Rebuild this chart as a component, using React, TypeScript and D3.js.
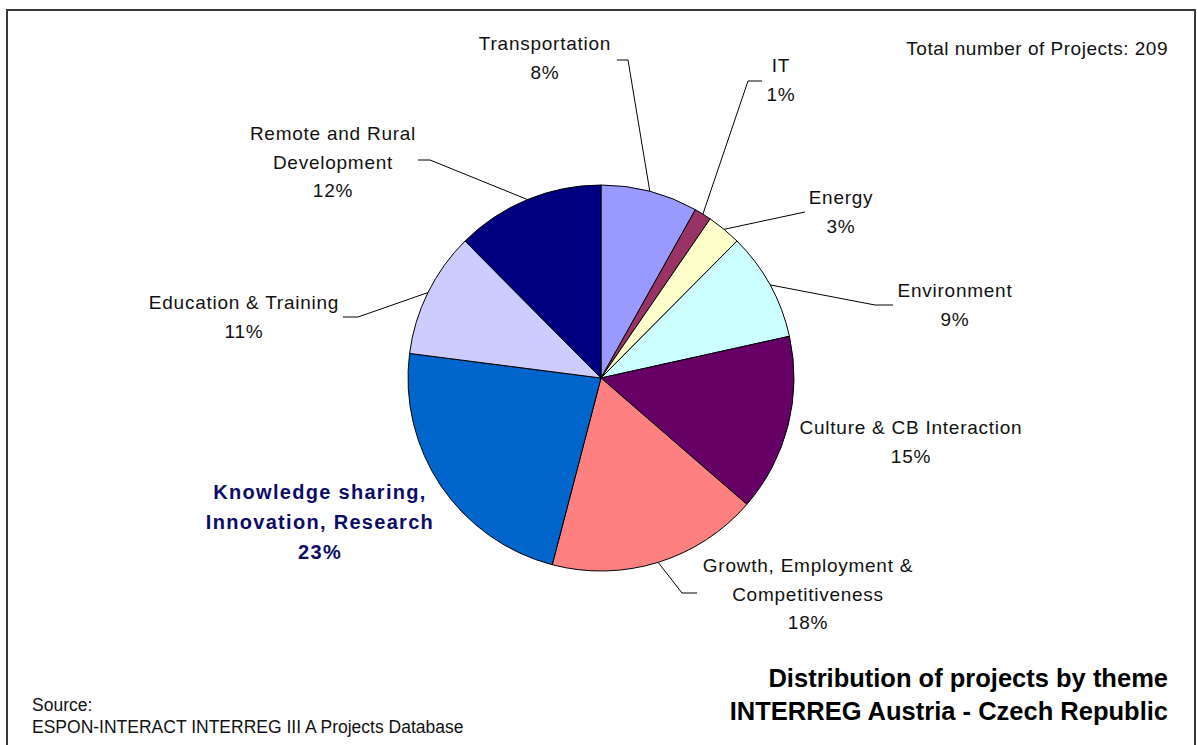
import React from "react";
import * as d3 from "d3";

const categories = [
  "Transportation",
  "IT",
  "Energy",
  "Environment",
  "Culture & CB Interaction",
  "Growth, Employment & Competitiveness",
  "Knowledge sharing, Innovation, Research",
  "Education & Training",
  "Remote and Rural Development",
];
const projectCounts = [17, 3, 6, 19, 31, 37, 48, 22, 26];
const sliceColors = [
  "#9999FF",
  "#993366",
  "#FFFFCC",
  "#CCFFFF",
  "#660066",
  "#FF8080",
  "#0066CC",
  "#CCCCFF",
  "#000080",
];
const labelLines = [
  ["Transportation"],
  ["IT"],
  ["Energy"],
  ["Environment"],
  ["Culture & CB Interaction"],
  ["Growth, Employment &", "Competitiveness"],
  ["Knowledge sharing,", "Innovation, Research"],
  ["Education & Training"],
  ["Remote and Rural", "Development"],
];
const titleLines = ["Distribution of projects by theme", "INTERREG Austria - Czech Republic"];
const sourceLines = ["Source:", "ESPON-INTERACT INTERREG III A Projects Database"];

// layout (label placement and leader elbows)
const labelLayout = [
  { x: 545, y: 43, elbow: [628, 60], end: [617, 60] },
  { x: 781, y: 65, elbow: [748, 81], end: [762, 81] },
  { x: 841, y: 197, elbow: [805, 212], end: [805, 212] },
  { x: 955, y: 290, elbow: [875, 305], end: [893, 305] },
  { x: 911, y: 427, elbow: null, end: null },
  { x: 808, y: 565, elbow: [682, 593], end: [697, 593] },
  { x: 320, y: 492, elbow: null, end: null },
  { x: 244, y: 302, elbow: [358, 317], end: [343, 317] },
  { x: 333, y: 133, elbow: [430, 160], end: [418, 160] },
];

const W = 1197;
const H = 745;
const CX = 601;
const CY = 378;
const R = 193;
const FONT = "'Liberation Sans', Arial, sans-serif";

export default function App() {
  const total = d3.sum(projectCounts);
  const pie = d3
    .pie<number>()
    .sort(null)
    .value((d) => d)
    .startAngle(0)
    .endAngle(2 * Math.PI);
  const arcs = pie(projectCounts);
  const arc = d3.arc<d3.PieArcDatum<number>>().innerRadius(0).outerRadius(R);
  const edge = d3.arc<d3.PieArcDatum<number>>().innerRadius(R).outerRadius(R);

  return (
    <svg
      width={W}
      height={H}
      style={{ position: "absolute", left: 0, top: 0, background: "#fff" }}
    >
      <rect x={0} y={0} width={W} height={H} fill="#fff" />
      <rect x={7} y={10} width={1188} height={760} fill="none" stroke="#3a3a3a" strokeWidth={2} />
      <g transform={`translate(${CX},${CY})`}>
        {arcs.map((a, i) => (
          <path key={i} d={arc(a) || ""} fill={sliceColors[i]} stroke="#000" strokeWidth={1} />
        ))}
      </g>
      {arcs.map((a, i) => {
        const L = labelLayout[i];
        if (!L.elbow) return null;
        const [ex, ey] = edge.centroid(a);
        const pts: [number, number][] = [
          [CX + ex, CY + ey],
          L.elbow as [number, number],
          L.end as [number, number],
        ];
        return (
          <path
            key={"l" + i}
            d={d3.line()(pts) || ""}
            fill="none"
            stroke="#000"
            strokeWidth={1}
          />
        );
      })}
      {arcs.map((a, i) => {
        const L = labelLayout[i];
        const pct = Math.round((a.value / total) * 100) + "%";
        const lines = [...labelLines[i], pct];
        const bold = i === 6;
        const lh = bold ? 30 : 28.5;
        return (
          <text
            key={"t" + i}
            textAnchor="middle"
            fontFamily={FONT}
            fontSize={bold ? 20 : 19}
            fontWeight={bold ? "bold" : "normal"}
            fill={bold ? "#0c0c66" : "#111"}
            letterSpacing={bold ? 1.3 : 0.75}
          >
            {lines.map((ln, k) => (
              <tspan key={k} x={L.x} y={L.y + 7 + k * lh}>
                {ln}
              </tspan>
            ))}
          </text>
        );
      })}
      <text x={1168} y={55} textAnchor="end" fontFamily={FONT} fontSize={19} letterSpacing={0.5} fill="#111">
        {"Total number of Projects: " + total}
      </text>
      <text textAnchor="end" fontFamily={FONT} fontSize={25.5} fontWeight="bold" fill="#000">
        {titleLines.map((t, k) => (
          <tspan key={k} x={1168} y={687 + k * 33}>
            {t}
          </tspan>
        ))}
      </text>
      <text fontFamily={FONT} fontSize={17.5} fill="#111">
        {sourceLines.map((t, k) => (
          <tspan key={k} x={32} y={711 + k * 22}>
            {t}
          </tspan>
        ))}
      </text>
    </svg>
  );
}
